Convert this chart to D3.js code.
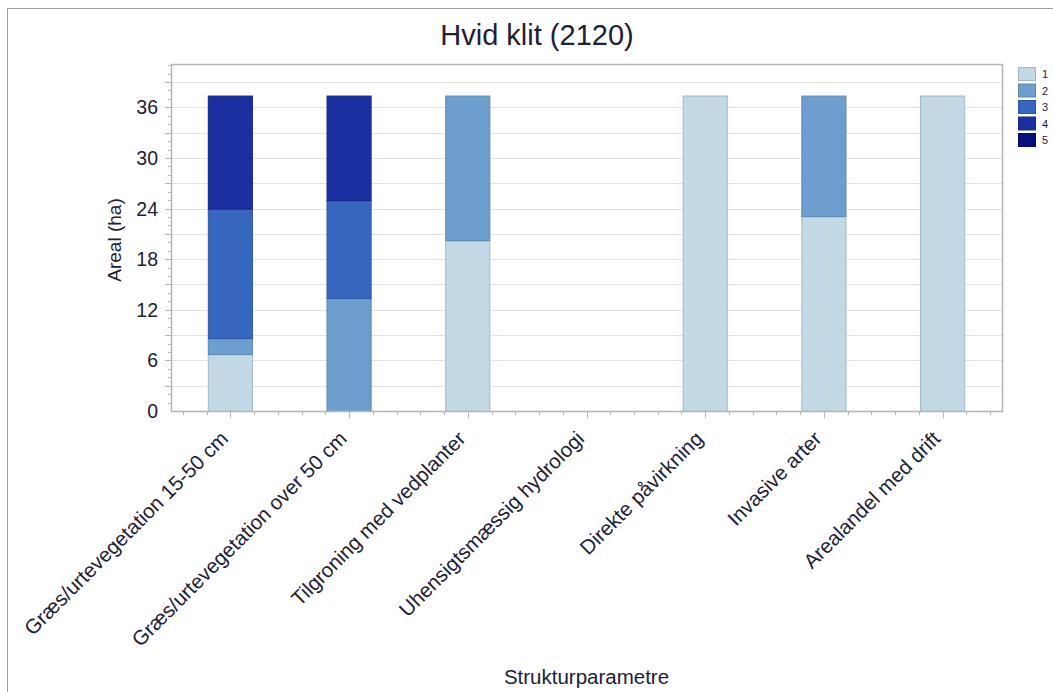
<!DOCTYPE html>
<html>
<head>
<meta charset="utf-8">
<script src="https://cdn.jsdelivr.net/npm/d3@7"></script>
<style>
  body { margin: 0; background: #fff; }
  text { font-family: "Liberation Sans", Arial, sans-serif; fill: #1e2036; }
</style>
</head>
<body>
<script>
var WIDTH = 1053;
var HEIGHT = 692;

// data
var categories = [
  "Græs/urtevegetation 15-50 cm",
  "Græs/urtevegetation over 50 cm",
  "Tilgroning med vedplanter",
  "Uhensigtsmæssig hydrologi",
  "Direkte påvirkning",
  "Invasive arter",
  "Arealandel med drift"
];
var seriesKeys = ["1", "2", "3", "4", "5"];
var s1 = [6.75, 0, 20.25, 0, 37.4, 23.1, 37.4];
var s2 = [1.9, 13.4, 17.15, 0, 0, 14.3, 0];
var s3 = [15.35, 11.6, 0, 0, 0, 0, 0];
var s4 = [13.4, 12.4, 0, 0, 0, 0, 0];
var s5 = [0, 0, 0, 0, 0, 0, 0];
var yTickLabels = [0, 6, 12, 18, 24, 30, 36];

var colors = ["#c2d8e5", "#6e9ecd", "#3766bf", "#1a30a1", "#070f80"];
var strokes = ["#9fb8c8", "#5a87b6", "#2d56a8", "#16288a", "#050b66"];

var rows = categories.map(function (c, i) {
  return { cat: c, "1": s1[i], "2": s2[i], "3": s3[i], "4": s4[i], "5": s5[i] };
});

var stacked = d3.stack().keys(seriesKeys)(rows);
var total = d3.max(stacked[stacked.length - 1], function (d) { return d[1]; });

var plot = { left: 171, right: 1002, top: 64, bottom: 411 };

var x = d3.scaleBand()
  .domain(categories)
  .range([plot.left, plot.right])
  .paddingInner(0.62)
  .paddingOuter(0.31);

var y = d3.scaleLinear()
  .domain([0, total * 1.1])
  .range([plot.bottom, plot.top]);

var svg = d3.select("body")
  .append("svg")
  .attr("width", WIDTH)
  .attr("height", HEIGHT);

// outer frame
svg.append("rect")
  .attr("x", 7.5).attr("y", 8.5)
  .attr("width", WIDTH).attr("height", HEIGHT)
  .attr("fill", "none")
  .attr("stroke", "#a0a0a0");

// title
svg.append("text")
  .attr("x", 537).attr("y", 45)
  .attr("text-anchor", "middle")
  .style("font-size", "29px")
  .text("Hvid klit (2120)");

// gridlines every 3
var gridVals = d3.range(3, y.domain()[1], 3);
svg.append("g").selectAll("line")
  .data(gridVals)
  .enter().append("line")
  .attr("x1", plot.left).attr("x2", plot.right)
  .attr("y1", function (d) { return Math.round(y(d)) + 0.5; })
  .attr("y2", function (d) { return Math.round(y(d)) + 0.5; })
  .attr("stroke", "#e2e2e2");

// bars
svg.append("g").selectAll("g")
  .data(stacked)
  .enter().append("g")
  .attr("fill", function (d, i) { return colors[i]; })
  .attr("stroke", function (d, i) { return strokes[i]; })
  .selectAll("rect")
  .data(function (d) { return d.filter(function (p) { return p[1] - p[0] > 0; }); })
  .enter().append("rect")
  .attr("x", function (d) { return x(d.data.cat) + 0.5; })
  .attr("y", function (d) { return y(d[1]) + 0.5; })
  .attr("width", x.bandwidth() - 1)
  .attr("height", function (d) { return y(d[0]) - y(d[1]); })
  .attr("stroke-width", 1);

// plot frame
svg.append("rect")
  .attr("x", plot.left + 0.5).attr("y", plot.top + 0.5)
  .attr("width", plot.right - plot.left).attr("height", plot.bottom - plot.top)
  .attr("fill", "none")
  .attr("stroke", "#b4b4b4")
  .attr("stroke-width", 1.5);

// y axis: labels every 6, major ticks every 3, minor every 1
var yMinor = d3.range(1, y.domain()[1], 1);
svg.append("g").selectAll("line")
  .data(yMinor)
  .enter().append("line")
  .attr("x1", function (d) { return d % 3 === 0 ? plot.left - 6 : plot.left - 3; })
  .attr("x2", plot.left)
  .attr("y1", function (d) { return Math.round(y(d)) + 0.5; })
  .attr("y2", function (d) { return Math.round(y(d)) + 0.5; })
  .attr("stroke", "#b4b4b4");

svg.append("g").selectAll("text")
  .data(yTickLabels)
  .enter().append("text")
  .attr("x", 158)
  .attr("y", function (d) { return y(d) + 7; })
  .attr("text-anchor", "end")
  .style("font-size", "19.5px")
  .text(function (d) { return d; });

svg.append("text")
  .attr("transform", "translate(121,240) rotate(-90)")
  .attr("text-anchor", "middle")
  .style("font-size", "19px")
  .text("Areal (ha)");

// x axis ticks: major at centres, minor every fifth of a step
var step = x.step();
var xTicks = [];
categories.forEach(function (c) {
  [-2, -1, 0, 1, 2].forEach(function (k) {
    xTicks.push({ pos: x(c) + x.bandwidth() / 2 + k * step / 5, major: k === 0 });
  });
});
svg.append("g").selectAll("line")
  .data(xTicks)
  .enter().append("line")
  .attr("x1", function (d) { return Math.round(d.pos) + 0.5; })
  .attr("x2", function (d) { return Math.round(d.pos) + 0.5; })
  .attr("y1", plot.bottom)
  .attr("y2", function (d) { return plot.bottom + (d.major ? 7 : 4); })
  .attr("stroke", "#b4b4b4");

svg.append("g").selectAll("text")
  .data(categories)
  .enter().append("text")
  .attr("transform", function (d) {
    return "translate(" + (x(d) + x.bandwidth() / 2 - 1) + "," + (plot.bottom + 29) + ") rotate(-45)";
  })
  .attr("text-anchor", "end")
  .style("font-size", "20.5px")
  .text(function (d) { return d; });

svg.append("text")
  .attr("x", (plot.left + plot.right) / 2)
  .attr("y", 684)
  .attr("text-anchor", "middle")
  .style("font-size", "20.5px")
  .text("Strukturparametre");

// legend
var legend = svg.append("g").selectAll("g")
  .data(seriesKeys)
  .enter().append("g")
  .attr("transform", function (d, i) { return "translate(1018," + (67 + i * 16.5) + ")"; });

legend.append("rect")
  .attr("x", 0.5).attr("y", 0.5)
  .attr("width", 17).attr("height", 13)
  .attr("fill", function (d, i) { return colors[i]; })
  .attr("stroke", function (d, i) { return strokes[i]; });

legend.append("text")
  .attr("x", 24).attr("y", 11)
  .style("font-size", "11px")
  .text(function (d) { return d; });
</script>
</body>
</html>
